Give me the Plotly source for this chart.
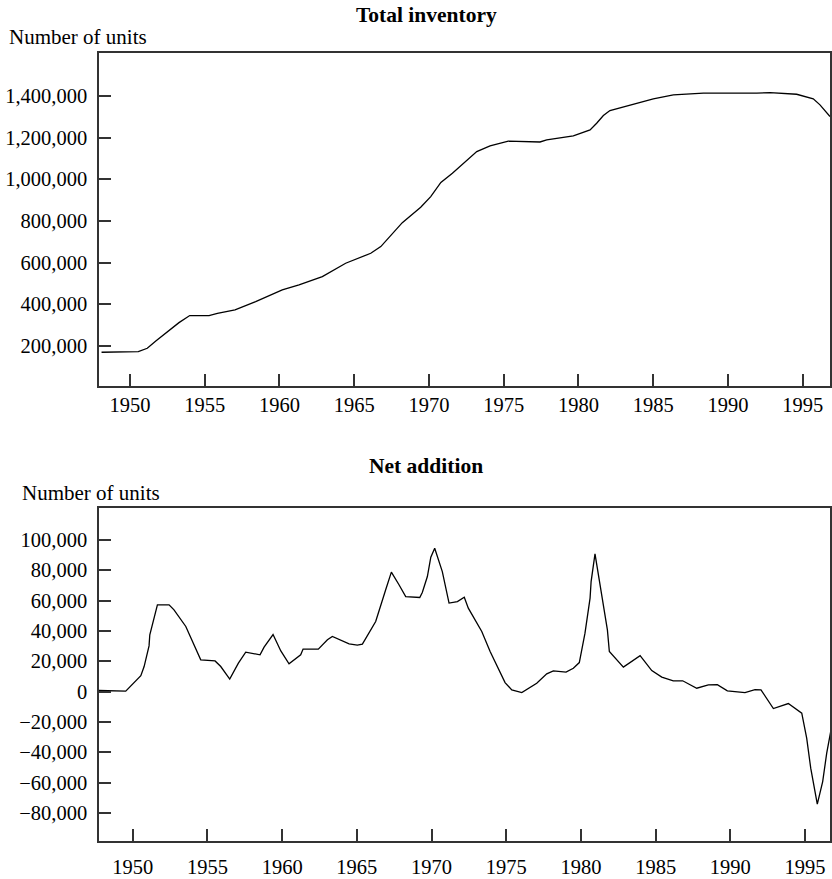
import plotly.graph_objects as go

# ---- Data ----
total_years = [1948.1, 1950.56, 1951.16, 1951.73, 1953.28, 1954.0, 1955.29, 1955.85, 1957.03, 1958.41,
               1960.19, 1961.31, 1962.87, 1964.43, 1966.11, 1966.78, 1968.22, 1969.45, 1970.12, 1970.8,
               1971.57, 1973.2, 1974.09, 1975.31, 1977.43, 1977.88, 1979.66, 1980.78, 1981.22, 1981.67,
               1982.11, 1983.9, 1985.01, 1986.35, 1988.36, 1991.93, 1992.82, 1994.6, 1995.71, 1996.16,
               1996.83]
total_units = [170000, 172800, 189000, 224000, 312000, 346000, 346000, 357000, 373000, 413000,
               469000, 493000, 533000, 597000, 645000, 677000, 792000, 866000, 917000, 985000,
               1029000, 1133000, 1160000, 1183000, 1179000, 1189000, 1208000, 1237000, 1269000, 1306000,
               1330000, 1365000, 1386000, 1405000, 1413000, 1413000, 1416000, 1408000, 1386000, 1357000,
               1301000]

net_years = [1947.74, 1948.63, 1949.53, 1950.54, 1950.76, 1951.09, 1951.14, 1951.65, 1952.43, 1952.76,
             1953.55, 1954.55, 1955.51, 1955.89, 1956.49, 1957.07, 1957.56, 1958.52, 1958.79, 1959.39,
             1959.68, 1959.91, 1960.46, 1961.24, 1961.40, 1962.42, 1963.03, 1963.36, 1964.48, 1965.03,
             1965.37, 1966.26, 1966.93, 1967.31, 1967.82, 1968.27, 1969.21, 1969.38, 1969.72, 1969.95,
             1970.21, 1970.72, 1971.17, 1971.73, 1972.19, 1972.46, 1973.36, 1973.92, 1974.92, 1975.37,
             1976.04, 1977.04, 1977.71, 1978.15, 1979.00, 1979.49, 1979.89, 1980.27, 1980.61, 1980.68,
             1980.94, 1981.39, 1981.77, 1981.90, 1982.84, 1983.96, 1984.74, 1985.41, 1986.18, 1986.81,
             1987.75, 1988.53, 1989.13, 1989.80, 1990.98, 1991.65, 1992.05, 1992.88, 1993.88, 1994.78,
             1995.11, 1995.38, 1995.82, 1996.18, 1996.45, 1996.80]
net_units = [700, 700, 300, 10500, 16500, 30100, 37400, 57200, 57200, 53900,
             42900, 20900, 20200, 16500, 8200, 18700, 26000, 24200, 29300, 37600,
             31900, 26800, 18300, 24200, 28000, 28000, 34100, 36300, 31400, 30600,
             31300, 46200, 67100, 78700, 70400, 62600, 62000, 65300, 75800, 88600,
             94500, 79100, 58300, 59300, 62200, 55000, 39600, 26400, 5900, 1100,
             -700, 5500, 11700, 13600, 12800, 15400, 19100, 38500, 61600, 72500,
             90800, 62600, 40700, 26400, 16100, 23700, 13800, 9500, 7100, 7100,
             2200, 4400, 4600, 500, -700, 1300, 1100, -11200, -7900, -14200,
             -30700, -50500, -74200, -59300, -40600, -22000]

year_ticks = [1950, 1955, 1960, 1965, 1970, 1975, 1980, 1985, 1990, 1995]
total_ticks = [200000, 400000, 600000, 800000, 1000000, 1200000, 1400000]
net_ticks = [-80000, -60000, -40000, -20000, 0, 20000, 40000, 60000, 80000, 100000]

titles = ["Total inventory", "Net addition"]
y_label = "Number of units"

# ---- Layout constants ----
W, H = 832, 879
ML, MR, MT, MB = 99, 2, 53, 38
PLOT_H = H - MT - MB
FONT = "Liberation Serif, Times New Roman, serif"
AX = "#333333"


def py(pix):
    return (H - MB - pix) / PLOT_H


def px(pix):
    return (pix - ML) / (W - ML - MR)


fig = go.Figure()
fig.add_trace(go.Scatter(x=total_years, y=total_units, mode="lines",
                         line=dict(color="black", width=1.3), xaxis="x", yaxis="y",
                         showlegend=False, hoverinfo="skip"))
fig.add_trace(go.Scatter(x=net_years, y=net_units, mode="lines",
                         line=dict(color="black", width=1.3), xaxis="x2", yaxis="y2",
                         showlegend=False, hoverinfo="skip"))

common_axis = dict(showgrid=False, zeroline=False, showline=True, linecolor=AX, linewidth=1.5,
                   mirror=True, ticks="inside", ticklen=12, tickwidth=1.5, tickcolor=AX,
                   automargin=False,
                   tickfont=dict(family=FONT, size=20.5, color="black"))

fig.update_layout(
    width=W, height=H,
    margin=dict(l=ML, r=MR, t=MT, b=MB, autoexpand=False),
    paper_bgcolor="white", plot_bgcolor="white",
    showlegend=False,
    xaxis=dict(common_axis, domain=[0, 1], range=[1947.93, 1996.83], tickvals=year_ticks,
               anchor="y", ticklabelstandoff=0),
    yaxis=dict(common_axis, domain=[py(386), 1], range=[8000, 1606000], tickvals=total_ticks,
               tickformat=",", anchor="x", ticklabelstandoff=6),
    xaxis2=dict(common_axis, domain=[0, 1], range=[1947.74, 1996.67], tickvals=year_ticks,
                anchor="y2", ticklabelstandoff=7),
    yaxis2=dict(common_axis, domain=[0, py(508)], range=[-98500, 121000], tickvals=net_ticks,
                tickformat=",", anchor="x2", ticklabelstandoff=6),
)

annots = [
    dict(text="<b>" + titles[0] + "</b>", x=px(426), y=py(15), xanchor="center", yanchor="middle",
         font=dict(size=21.5)),
    dict(text=y_label, x=px(7), y=py(37), xanchor="left", yanchor="middle", font=dict(size=21)),
    dict(text="<b>" + titles[1] + "</b>", x=px(426), y=py(466), xanchor="center", yanchor="middle",
         font=dict(size=21.5)),
    dict(text=y_label, x=px(20), y=py(493), xanchor="left", yanchor="middle", font=dict(size=21)),
]
for a in annots:
    a["font"].update(family=FONT, color="black")
    fig.add_annotation(xref="paper", yref="paper", showarrow=False, **a)

fig.write_html("out.html", config={"displayModeBar": False},
               post_script="document.body.style.margin='0';document.body.style.overflow='hidden';")
